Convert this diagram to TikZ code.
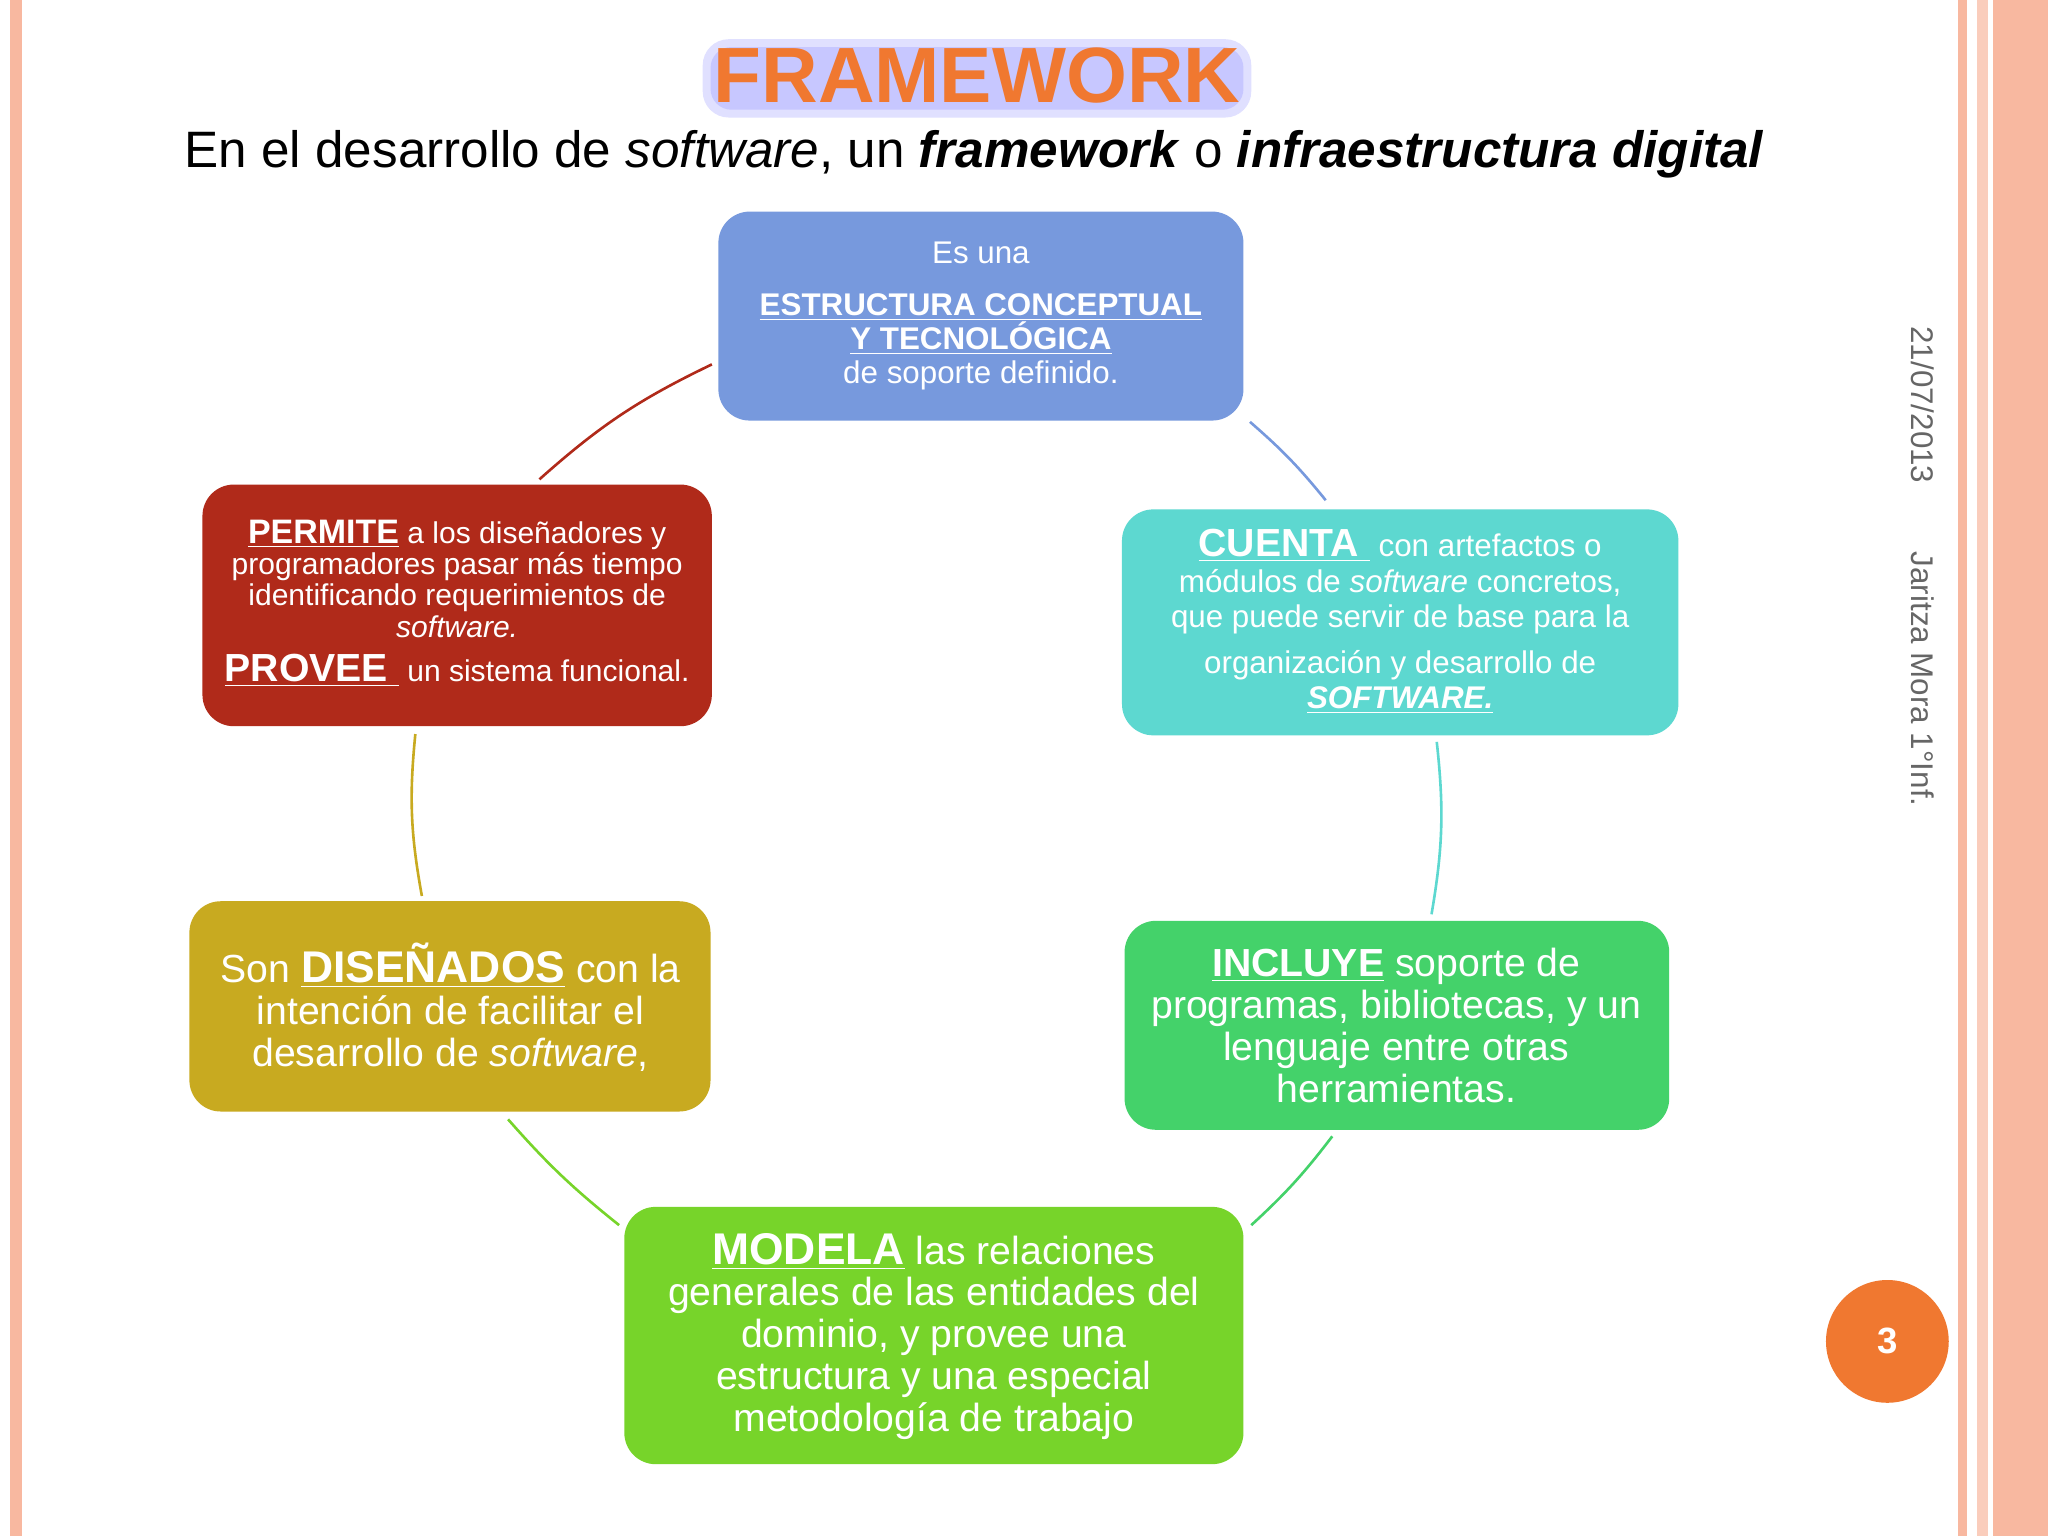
\documentclass[tikz,border=0pt]{standalone}
\usepackage{fontspec}
\setmainfont{Liberation Sans}
\usetikzlibrary{calc}
\definecolor{cblue}{HTML}{7799DD}
\definecolor{ccyan}{HTML}{5DD8D0}
\definecolor{cgreen}{HTML}{44D26A}
\definecolor{clime}{HTML}{77D42A}
\definecolor{cgold}{HTML}{C8AA20}
\definecolor{cred}{HTML}{B02A1A}
\definecolor{corange}{HTML}{F07830}
\definecolor{cpink}{HTML}{F8B8A0}
\tikzset{
 card/.style={rounded corners=12pt,draw=none,text=white,align=center,inner sep=0pt},
 arc/.style={line width=1pt},
}
\newcommand{\ul}[1]{\underline{#1}}
\begin{document}
\begin{tikzpicture}[x=0.5pt,y=-0.5pt]
\useasboundingbox (0,0) rectangle (1568,1176);
\fill[white] (0,0) rectangle (1568,1176);
% borders
\fill[cpink] (8,0) rectangle (17,1176);
\fill[cpink] (1499,0) rectangle (1506,1176);
\fill[cpink!70] (1514,0) rectangle (1522,1176);
\fill[cpink] (1526,0) rectangle (1568,1176);
% title glow
\fill[blue!12,rounded corners=10pt] (538,30) rectangle (958,90);
\fill[blue!22,rounded corners=8pt] (544,36) rectangle (952,84);
\node (title) [text=corange,font=\fontsize{30}{30}\bfseries] at (748,58) {FRAMEWORK};
\node (sub) [font=\fontsize{19.6}{22}\selectfont] at (746,118) {En el desarrollo de \emph{software}, un \textbf{\emph{framework}} o \textbf{\emph{infraestructura digital}}};
% cards
\fill[cblue,rounded corners=12pt] (550,162) rectangle (952,322);
\node (b1) [card,font=\fontsize{12}{14}\selectfont] at (751,242) {Es una\\[6pt]\textbf{\ul{ESTRUCTURA CONCEPTUAL}}\\[-1pt]\textbf{\ul{Y TECNOLÓGICA}}\\[-1pt]de soporte definido.};
\fill[ccyan,rounded corners=12pt] (859,390) rectangle (1285,563);
\node (b2) [card,font=\fontsize{12}{13.5}\selectfont] at (1072,476) {{\fontsize{15}{15}\bfseries\ul{CUENTA }} con artefactos o\\módulos de \emph{software} concretos,\\que puede servir de base para la\\[4pt]organización y desarrollo de\\\textbf{\emph{\ul{SOFTWARE.}}}};
\fill[cgreen,rounded corners=12pt] (861,705) rectangle (1278,865);
\node (b3) [card,font=\fontsize{15}{16}\selectfont] at (1069,785) {{\bfseries\ul{INCLUYE}} soporte de\\programas, bibliotecas, y un\\lenguaje entre otras\\herramientas.};
\fill[clime,rounded corners=12pt] (478,924) rectangle (952,1121);
\node (b4) [card,font=\fontsize{15}{16}\selectfont] at (715,1023) {{\fontsize{17}{17}\bfseries\ul{MODELA}} las relaciones\\generales de las entidades del\\dominio, y provee una\\estructura y una especial\\metodología de trabajo};
\fill[cgold,rounded corners=12pt] (145,690) rectangle (544,851);
\node (b5) [card,font=\fontsize{15}{16}\selectfont] at (345,771) {Son {\fontsize{17}{17}\bfseries\ul{DISEÑADOS}} con la\\intención de facilitar el\\desarrollo de \emph{software},};
\fill[cred,rounded corners=12pt] (155,371) rectangle (545,556);
\node (b6) [card,font=\fontsize{11.5}{12}\selectfont] at (350,462) {{\fontsize{13}{13}\bfseries\ul{PERMITE}} a los diseñadores y\\programadores pasar más tiempo\\identificando requerimientos de\\\emph{software.}\\[5pt]{\fontsize{15}{15}\bfseries\ul{PROVEE }} un sistema funcional.};
% connectors
\coordinate (a1) at (545,279); \coordinate (a2) at (413,367);
\coordinate (c1) at (957,323); \coordinate (c2) at (1015,383);
\coordinate (d1) at (1100,568); \coordinate (d2) at (1096,700);
\coordinate (e1) at (1020,870); \coordinate (e2) at (958,938);
\coordinate (f1) at (474,938); \coordinate (f2) at (389,857);
\coordinate (g1) at (323,686); \coordinate (g2) at (318,562);
\draw[arc,cred] (a1) to[bend right=8] (a2);
\draw[arc,cblue] (c1) to[bend left=5] (c2);
\draw[arc,ccyan] (d1) to[bend left=8] (d2);
\draw[arc,cgreen] (e1) to[bend left=5] (e2);
\draw[arc,clime] (f1) to[bend left=5] (f2);
\draw[arc,cgold] (g1) to[bend left=8] (g2);
% side
\node (date) [rotate=-90,text=black!60,font=\fontsize{12}{12}\selectfont] at (1472,310) {21/07/2013};
\node (auth) [rotate=-90,text=black!60,font=\fontsize{12}{12}\selectfont] at (1472,520) {Jaritza Mora 1°Inf.};
\node (pg) [circle,fill=corange,minimum size=47pt,text=white,font=\fontsize{14}{14}\bfseries] at (1445,1027) {3};
\end{tikzpicture}
\end{document}
